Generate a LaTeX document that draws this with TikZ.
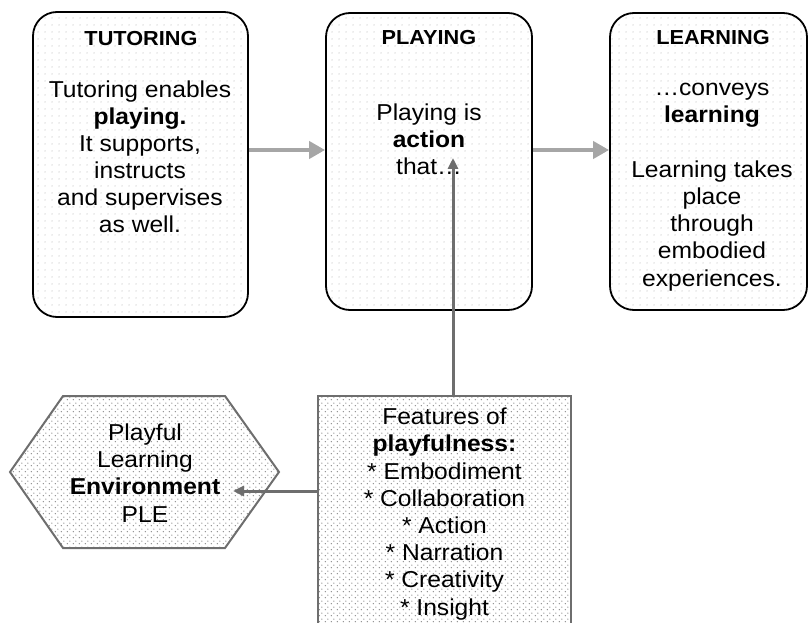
\documentclass[tikz,border=0pt]{standalone}
\usepackage{fontspec}
\setmainfont[FakeStretch=1.07]{Liberation Sans}
\usetikzlibrary{arrows.meta,patterns.meta}
\tikzdeclarepattern{
  name=lightdots,
  type=uncolored,
  bottom left={(0pt,0pt)},
  top right={(7pt,7pt)},
  tile size={(7pt,7pt)},
  code={\fill (3.5pt,3.5pt) circle (0.75pt);}
}
\tikzdeclarepattern{
  name=densedots,
  type=uncolored,
  bottom left={(0pt,0pt)},
  top right={(6pt,6pt)},
  tile size={(6pt,6pt)},
  code={\fill (1.5pt,1.5pt) circle (0.85pt); \fill (4.5pt,4.5pt) circle (0.85pt);}
}
\definecolor{lightarr}{HTML}{A6A6A6}
\definecolor{darkarr}{HTML}{6E6E6E}
\tikzset{
  topbox/.style={draw=black, line width=1.8pt, rounded corners=24pt,
    preaction={fill=white}, pattern=lightdots, pattern color=black!22,
    inner sep=0pt},
  lowshape/.style={draw=darkarr, line width=2pt,
    preaction={fill=white}, pattern=densedots, pattern color=black!45},
  titletext/.style={font=\bfseries\fontsize{20.3}{24}\selectfont, anchor=base, inner sep=0pt},
  bodytext/.style={font=\fontsize{23}{27.2}\selectfont, align=center, anchor=base, inner sep=0pt},
  lightarrow/.style={draw=lightarr, line width=4.5pt, -{Triangle[length=16pt,width=17pt]}},
  darkarrow/.style={draw=darkarr, line width=3pt, -{Triangle[length=11pt,width=10pt]}}
}
\begin{document}
\begin{tikzpicture}[x=1pt,y=-1pt]
\useasboundingbox (0,0) rectangle (809,623);
\clip (0,0) rectangle (809,623);
% top boxes
\node[topbox, minimum width=215pt, minimum height=305pt] (box1) at (140.5,164.5) {};
\node[topbox, minimum width=206pt, minimum height=297pt] (box2) at (429,161.5) {};
\node[topbox, minimum width=197pt, minimum height=297pt] (box3) at (708.5,161.5) {};
\node[titletext] (t1) at (141,46) {TUTORING};
\node[titletext] (t2) at (429,45) {PLAYING};
\node[titletext] (t3) at (713,45) {LEARNING};
% anchor=base is the baseline of the last line
\node[bodytext] (b1) at (140,233) {Tutoring enables\\\textbf{playing.}\\It supports,\\instructs\\and supervises\\as well.};
\node[bodytext] (b2) at (429,175) {Playing is\\\textbf{action}\\that…};
\node[bodytext] (b3) at (712,286) {…conveys\\\textbf{learning}\\[27.2pt]Learning takes\\place\\through\\embodied\\experiences.};
% lower shapes
\draw[lowshape] (10,472) -- (63,396) -- (225,396) -- (279,472) -- (225,548) -- (63,548) -- cycle;
\node[lowshape, minimum width=253pt, minimum height=244pt, inner sep=0pt] (feat) at (444.5,518) {};
\node[bodytext] (ple) at (145,522) {Playful\\Learning\\\textbf{Environment}\\PLE};
\node[bodytext] (ft) at (444.5,615) {Features of\\\textbf{playfulness:}\\* Embodiment\\* Collaboration\\* Action\\* Narration\\* Creativity\\* Insight};
% connectors
\coordinate (ay) at (0,150);
\draw[lightarrow] (box1.east |- ay) -- (box2.west |- ay);
\draw[lightarrow] (box2.east |- ay) -- (box3.west |- ay);
\coordinate (playtip) at (453,158);
\draw[darkarrow] (feat.north -| playtip) -- (playtip);
\coordinate (pletip) at (233,491);
\draw[darkarrow] (feat.west |- pletip) -- (pletip);
\end{tikzpicture}
\end{document}
